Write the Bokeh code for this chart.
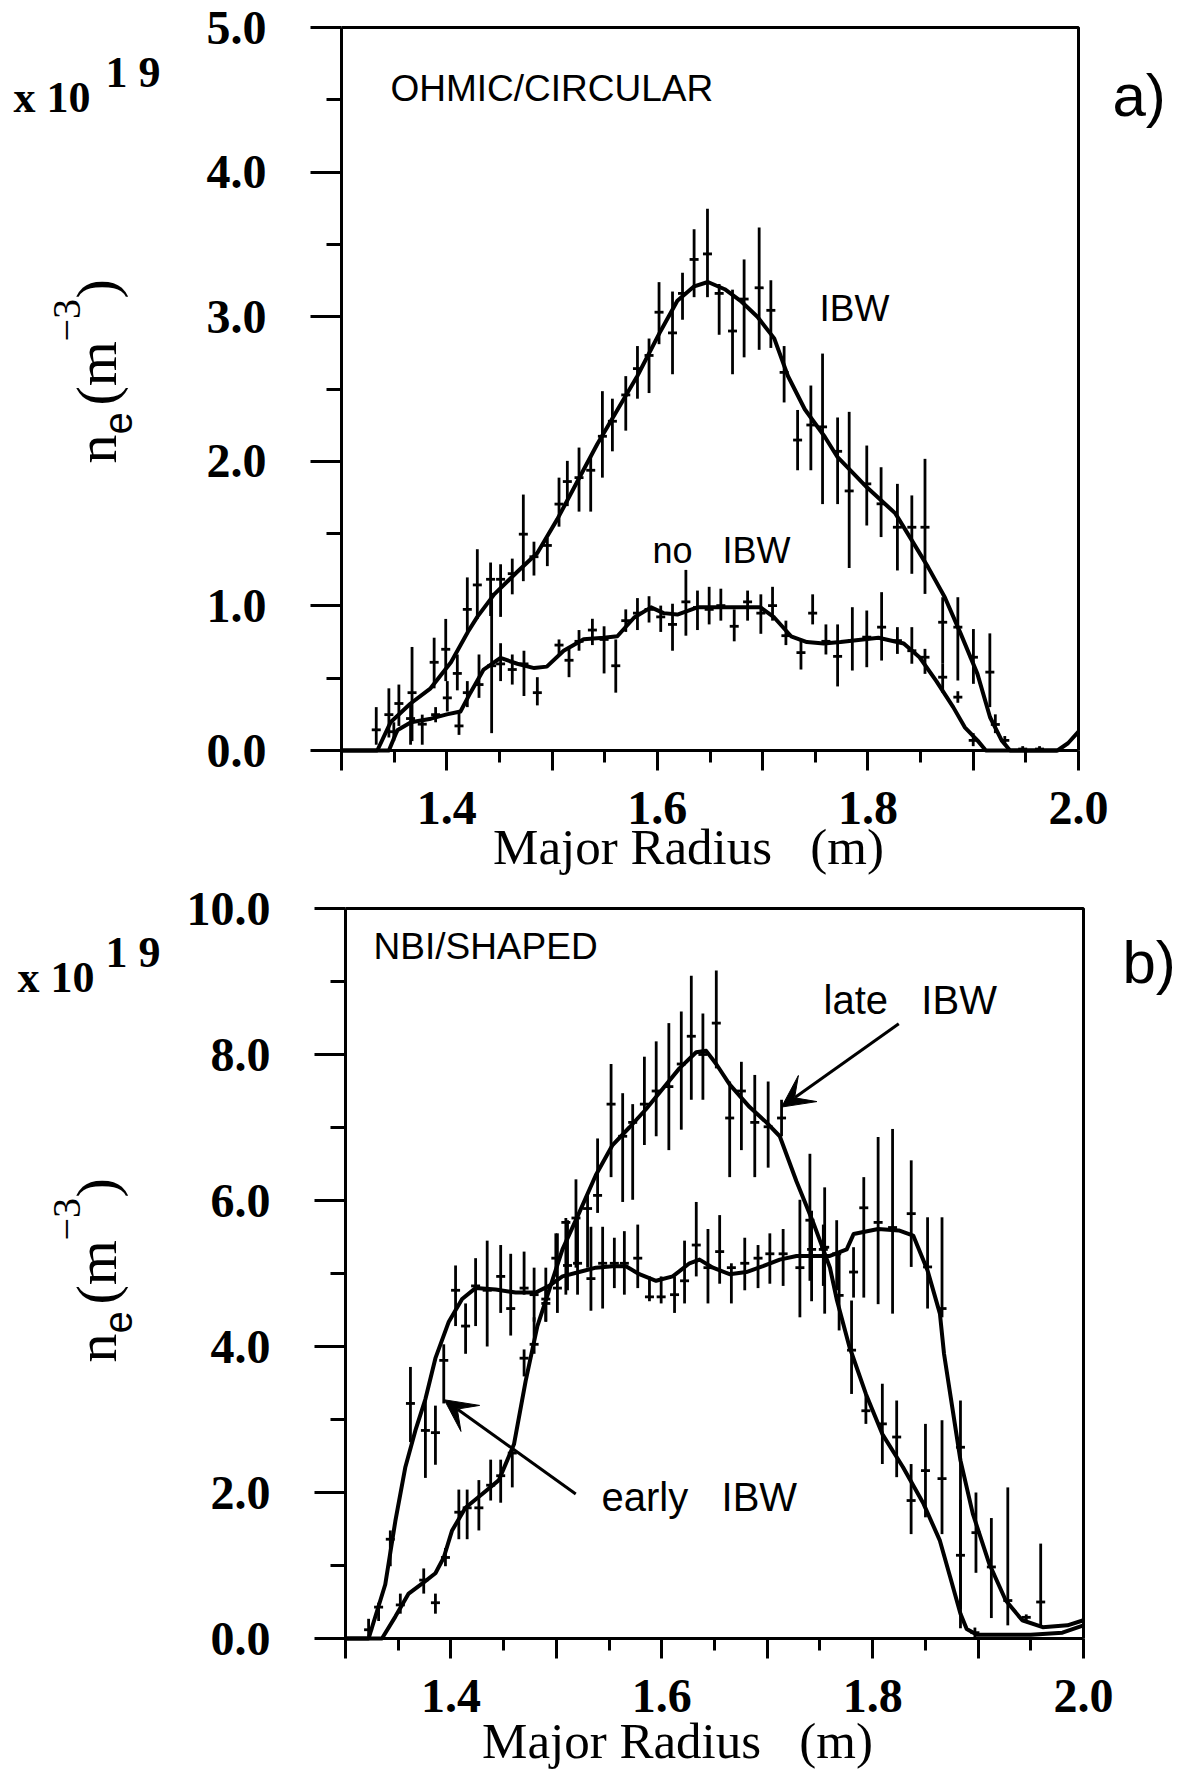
import math
from bokeh.plotting import figure
from bokeh.models import (Range1d, FixedTicker, CustomJSTickFormatter, PrintfTickFormatter,
                          Label, Arrow, VeeHead, ColumnDataSource)
from bokeh.layouts import column
from bokeh.embed import file_html
from bokeh.resources import INLINE

# ---------------- data ----------------
x_major_ticks = [1.3, 1.4, 1.5, 1.6, 1.7, 1.8, 1.9, 2.0]
x_minor_ticks = [1.35, 1.45, 1.55, 1.65, 1.75, 1.85, 1.95]
a_y_ticks = [0, 1, 2, 3, 4, 5]
a_y_minor = [0.5, 1.5, 2.5, 3.5, 4.5]
b_y_ticks = [0, 2, 4, 6, 8, 10]
b_y_minor = [1, 3, 5, 7, 9]

# panel a: IBW fitted profile
a_ibw_fit_r = [1.300, 1.334, 1.3466, 1.3656, 1.3846, 1.404, 1.420, 1.429, 1.445, 1.467, 1.486,
               1.505, 1.524, 1.543, 1.562, 1.581, 1.603, 1.619, 1.635, 1.648, 1.664, 1.679,
               1.695, 1.711, 1.724, 1.740, 1.759, 1.771, 1.799, 1.826, 1.842, 1.857, 1.873,
               1.888, 1.904, 1.916, 1.927, 1.935, 1.980, 1.990, 2.000]
a_ibw_fit_n = [0.0, 0.0, 0.195, 0.325, 0.43, 0.61, 0.82, 0.924, 1.08, 1.236, 1.366,
               1.60, 1.86, 2.12, 2.355, 2.59, 2.90, 3.11, 3.21, 3.24, 3.19, 3.11,
               3.00, 2.85, 2.59, 2.36, 2.17, 2.03, 1.82, 1.64, 1.45, 1.27, 1.06,
               0.81, 0.53, 0.23, 0.07, 0.0, 0.0, 0.05, 0.13]
# panel a: no IBW fitted profile
a_no_fit_r = [1.300, 1.345, 1.353, 1.366, 1.385, 1.400, 1.413, 1.4225, 1.435, 1.451, 1.467,
              1.483, 1.495, 1.511, 1.530, 1.549, 1.562, 1.578, 1.594, 1.606, 1.619, 1.638,
              1.670, 1.698, 1.711, 1.727, 1.742, 1.758, 1.774, 1.810, 1.834, 1.849, 1.865,
              1.881, 1.892, 1.904, 1.912, 1.980]
a_no_fit_n = [0.0, 0.0, 0.14, 0.195, 0.22, 0.25, 0.27, 0.40, 0.56, 0.64, 0.60,
              0.57, 0.58, 0.69, 0.77, 0.78, 0.79, 0.92, 0.99, 0.95, 0.94, 0.99,
              0.99, 0.99, 0.92, 0.79, 0.75, 0.74, 0.75, 0.78, 0.74, 0.645, 0.48,
              0.30, 0.16, 0.07, 0.0, 0.0]

# panel a: IBW measured points with error bars
a_ibw_r = [1.333, 1.345, 1.3545, 1.367, 1.388, 1.399, 1.410, 1.4195, 1.429, 1.4416, 1.4511,
           1.4622, 1.4727, 1.4828, 1.4955, 1.5066, 1.5145, 1.5256, 1.5367, 1.5478, 1.5573,
           1.570, 1.5811, 1.5921, 1.6016, 1.6144, 1.6239, 1.6349, 1.6476, 1.6587, 1.6714,
           1.6824, 1.6967, 1.7078, 1.7204, 1.7332, 1.7458, 1.7569, 1.7712, 1.7822, 1.7989,
           1.8125, 1.828, 1.8417, 1.8542, 1.871, 1.8854, 1.9002, 1.9158, 1.921, 1.930,
           1.947, 1.963]
a_ibw_n = [0.143, 0.248, 0.325, 0.40, 0.61, 0.70, 0.533, 0.976, 1.145, 1.184, 1.184,
           1.223, 1.496, 1.34, 1.418, 1.704, 1.86, 1.887, 1.938, 2.173, 2.277,
           2.459, 2.641, 2.732, 3.031, 2.888, 3.161, 3.396, 3.434, 3.161, 2.901,
           3.122, 3.20, 3.044, 2.615, 2.147, 2.251, 2.238, 2.069, 1.795, 1.844,
           1.706, 1.544, 1.544, 1.544, 0.887, 0.853, 0.645, 0.542, 0.18, 0.07,
           0.01, 0.01]
a_ibw_lo = [0.04, 0.09, 0.17, 0.065, 0.43, 0.48, 0.416, 0.82, 0.91, 0.93, 0.924,
            1.08, 1.171, 1.21, 1.275, 1.548, 1.69, 1.652, 1.652, 1.887, 2.069,
            2.212, 2.433, 2.472, 2.81, 2.602, 2.979, 3.135, 3.135, 2.875, 2.602,
            2.719, 2.771, 2.784, 2.407, 1.938, 1.938, 1.704, 1.704, 1.262, 1.556,
            1.476, 1.245, 1.222, 1.083, 0.60, 0.484, 0.461, 0.30, 0.12, 0.04,
            0.0, 0.0]
a_ibw_hi = [0.30, 0.43, 0.456, 0.716, 0.78, 0.91, 0.664, 1.197, 1.392, 1.30, 1.288,
            1.327, 1.77, 1.444, 1.47, 1.887, 2.003, 2.095, 2.03, 2.485, 2.433,
            2.589, 2.797, 2.849, 3.239, 3.174, 3.304, 3.604, 3.747, 3.226, 3.187,
            3.396, 3.617, 3.252, 2.797, 2.355, 2.524, 2.745, 2.303, 2.342, 2.109,
            1.959, 1.844, 1.764, 2.017, 1.06, 1.06, 0.84, 0.81, 0.25, 0.10,
            0.03, 0.03]

# panel a: no IBW measured points with error bars
a_no_r = [1.3497, 1.3656, 1.3767, 1.3894, 1.4005, 1.4116, 1.4195, 1.4306, 1.4426, 1.4511,
          1.4622, 1.4733, 1.486, 1.5066, 1.5161, 1.5256, 1.5383, 1.5494, 1.5605, 1.570,
          1.5811, 1.5921, 1.6032, 1.6144, 1.6271, 1.6381, 1.6492, 1.6603, 1.673, 1.6857,
          1.6983, 1.7094, 1.7221, 1.7364, 1.7475, 1.7601, 1.7712, 1.7852, 1.7989, 1.813,
          1.828, 1.8417, 1.8542, 1.871, 1.8854, 1.900]
a_no_n = [0.13, 0.221, 0.182, 0.248, 0.364, 0.17, 0.40, 0.456, 0.586, 0.599,
          0.56, 0.599, 0.40, 0.729, 0.624, 0.755, 0.833, 0.768, 0.586, 0.898,
          0.95, 0.976, 0.924, 0.872, 1.028, 0.989, 0.976, 1.002, 0.859, 1.028,
          0.95, 1.002, 0.794, 0.677, 0.95, 0.755, 0.651, 0.76, 0.784, 0.853,
          0.76, 0.69, 0.645, 0.507, 0.369, 0.07]
a_no_lo = [0.065, 0.04, 0.04, 0.195, 0.27, 0.108, 0.30, 0.364, 0.12, 0.48,
           0.456, 0.377, 0.312, 0.664, 0.507, 0.69, 0.729, 0.533, 0.40, 0.82,
           0.833, 0.885, 0.82, 0.69, 0.794, 0.833, 0.872, 0.898, 0.755, 0.898,
           0.807, 0.898, 0.729, 0.56, 0.872, 0.664, 0.443, 0.553, 0.576, 0.622,
           0.668, 0.60, 0.53, 0.40, 0.33, 0.03]
a_no_hi = [0.195, 0.325, 0.248, 0.30, 0.48, 0.273, 0.48, 0.664, 1.09, 0.742,
           0.664, 0.69, 0.507, 0.768, 0.703, 0.833, 0.911, 0.859, 0.768, 0.976,
           1.054, 1.067, 1.002, 1.015, 1.249, 1.106, 1.132, 1.119, 0.976, 1.106,
           1.08, 1.132, 0.898, 0.768, 1.08, 0.872, 0.872, 0.991, 0.968, 1.095,
           0.853, 0.853, 0.703, 0.60, 0.41, 0.12]

# panel b: late IBW fitted profile
b_late_fit_r = [1.300, 1.3346, 1.3473, 1.3599, 1.3742, 1.3853, 1.3932, 1.4011, 1.4138, 1.4297,
                1.4455, 1.4598, 1.4709, 1.482, 1.4931, 1.5058, 1.5216, 1.5375, 1.5533, 1.5692,
                1.585, 1.6009, 1.6167, 1.6326, 1.6421, 1.6516, 1.6643, 1.6833, 1.6992, 1.7119,
                1.7278, 1.7436, 1.7595, 1.7662, 1.7779, 1.7936, 1.8092, 1.8287, 1.8483, 1.8638,
                1.8736, 1.8833, 1.8892, 1.899, 1.950, 1.980, 2.000]
b_late_fit_n = [0.0, 0.0, 0.30, 0.615, 0.77, 0.894, 1.11, 1.48, 1.79, 1.98,
                2.17, 2.66, 3.53, 4.28, 4.77, 5.33, 5.83, 6.35, 6.76, 7.00,
                7.25, 7.53, 7.81, 8.03, 8.05, 7.87, 7.59, 7.28, 7.07, 6.88,
                6.26, 5.70, 5.08, 4.63, 4.00, 3.35, 2.80, 2.35, 1.845, 1.34,
                0.84, 0.34, 0.13, 0.05, 0.05, 0.08, 0.18]
# panel b: early IBW fitted profile
b_early_fit_r = [1.300, 1.3219, 1.3377, 1.3473, 1.3568, 1.3663, 1.3758, 1.3853, 1.398, 1.4106,
                 1.4233, 1.4424, 1.4614, 1.4804, 1.4931, 1.5058, 1.5216, 1.5375, 1.5533, 1.566,
                 1.5787, 1.5946, 1.6104, 1.6263, 1.6358, 1.6485, 1.6643, 1.6802, 1.696, 1.7119,
                 1.7278, 1.7436, 1.7595, 1.7754, 1.7819, 1.8053, 1.8248, 1.8385, 1.8521, 1.8638,
                 1.8677, 1.8755, 1.8833, 1.895, 1.9107, 1.9263, 1.9419, 1.9613, 1.9848, 2.000]
b_early_fit_n = [0.0, 0.0, 0.74, 1.61, 2.35, 2.85, 3.28, 3.84, 4.34, 4.65,
                 4.80, 4.78, 4.74, 4.74, 4.83, 4.96, 5.02, 5.08, 5.10, 5.10,
                 4.99, 4.90, 4.96, 5.14, 5.19, 5.08, 4.99, 5.02, 5.10, 5.19,
                 5.24, 5.24, 5.24, 5.33, 5.54, 5.61, 5.59, 5.52, 5.04, 4.45,
                 3.90, 3.17, 2.44, 1.71, 1.02, 0.52, 0.25, 0.155, 0.18, 0.25]

# panel b: late IBW measured points
b_late_r = [1.352, 1.3742, 1.3853, 1.3948, 1.4075, 1.4154, 1.4265, 1.4377, 1.4472, 1.4582,
            1.4694, 1.4789, 1.490, 1.4995, 1.509, 1.5186, 1.5296, 1.5391, 1.5519, 1.5629,
            1.5724, 1.5835, 1.5947, 1.6067, 1.6185, 1.628, 1.639, 1.6517, 1.6644, 1.6755,
            1.6882, 1.7009, 1.7136, 1.7405, 1.7545, 1.7682, 1.780, 1.7936, 1.8092, 1.8228,
            1.8365, 1.8501, 1.8658, 1.8833, 1.897]
b_late_n = [0.46, 0.80, 0.49, 1.11, 1.73, 1.79, 1.79, 2.10, 2.23, 2.54,
            3.84, 4.03, 4.65, 5.21, 5.70, 5.76, 5.89, 6.07, 7.32, 6.88,
            7.07, 7.32, 7.50, 7.56, 7.87, 8.25, 8.00, 8.43, 7.13, 7.50,
            7.07, 7.01, 7.13, 5.73, 5.36, 4.70, 3.95, 3.12, 2.94, 2.76,
            1.89, 2.30, 2.19, 1.14, 0.08]
b_late_lo = [0.34, 0.615, 0.34, 0.99, 1.36, 1.36, 1.48, 1.89, 1.86, 2.07,
             3.59, 3.90, 4.34, 4.96, 4.71, 5.08, 5.08, 5.83, 6.32, 5.98,
             6.01, 6.76, 6.88, 6.69, 6.97, 7.38, 7.38, 7.81, 6.32, 6.69,
             6.32, 6.45, 6.88, 4.90, 4.45, 4.22, 3.35, 2.94, 2.39, 2.21,
             1.43, 1.66, 1.43, 0.40, 0.02]
b_late_hi = [0.615, 0.96, 0.615, 1.24, 2.04, 2.04, 2.17, 2.45, 2.45, 2.60,
             3.96, 4.40, 4.83, 5.55, 5.76, 6.29, 6.07, 6.85, 7.87, 7.47,
             7.32, 7.97, 8.18, 8.43, 8.59, 9.08, 8.56, 9.15, 7.63, 7.90,
             7.72, 7.63, 7.38, 6.64, 6.18, 5.27, 4.63, 3.35, 3.49, 3.26,
             2.39, 2.94, 2.99, 1.90, 0.15]

# panel b: early IBW measured points
b_early_r = [1.3219, 1.3314, 1.3425, 1.3616, 1.3758, 1.3853, 1.3932, 1.4044, 1.4139, 1.4234,
             1.4344, 1.4472, 1.4567, 1.4694, 1.4789, 1.490, 1.501, 1.5106, 1.5201, 1.5328,
             1.5439, 1.555, 1.5645, 1.5772, 1.5883, 1.5994, 1.6121, 1.6216, 1.6327, 1.6438,
             1.6549, 1.666, 1.6787, 1.6913, 1.7025, 1.7151, 1.731, 1.7421, 1.7532, 1.7659,
             1.7819, 1.7916, 1.8052, 1.8189, 1.8366, 1.8521, 1.8658, 1.8833, 1.898, 1.9126,
             1.9282, 1.9457, 1.9594]
b_early_n = [0.12, 0.43, 1.36, 3.22, 2.85, 2.82, 3.81, 4.77, 4.28, 4.83,
             4.77, 4.96, 4.52, 4.80, 4.71, 4.59, 4.80, 5.11, 5.14, 4.93,
             5.14, 5.14, 5.14, 5.21, 4.68, 4.68, 4.71, 4.90, 5.39, 5.08,
             5.30, 5.08, 5.14, 5.21, 5.27, 5.27, 5.08, 5.33, 5.33, 5.27,
             5.02, 5.90, 5.70, 5.63, 5.82, 5.09, 4.52, 2.62, 1.45, 0.98,
             0.52, 0.29, 0.50]
b_early_lo = [0.03, 0.24, 0.99, 2.69, 2.20, 2.38, 3.22, 4.28, 3.90, 4.28,
              4.00, 4.46, 4.15, 4.71, 4.34, 4.34, 4.46, 4.77, 4.71, 4.49,
              4.52, 4.80, 4.71, 4.80, 4.62, 4.59, 4.46, 4.59, 4.96, 4.59,
              4.86, 4.59, 4.77, 4.80, 4.86, 4.83, 4.40, 4.62, 4.83, 4.77,
              4.67, 4.67, 4.58, 4.45, 5.09, 4.52, 4.40, 0.14, 0.90, 0.28,
              0.18, 0.25, 0.18]
b_early_hi = [0.27, 0.49, 1.48, 3.72, 3.31, 3.19, 4.03, 5.11, 4.59, 5.21,
              5.45, 5.39, 5.27, 5.30, 5.08, 5.08, 5.55, 5.73, 5.83, 5.64,
              5.64, 5.49, 5.58, 5.67, 4.96, 4.96, 4.96, 5.45, 5.98, 5.61,
              5.80, 5.14, 5.49, 5.39, 5.55, 5.61, 6.01, 5.86, 5.67, 5.73,
              5.36, 6.32, 6.87, 6.98, 6.55, 5.77, 5.77, 3.26, 2.00, 1.65,
              2.07, 0.33, 1.30]

SERIF = "Liberation Serif"
SANS = "Liberation Sans"
NB = "\u00a0"
W = 1193
BASE_FIX = 0.33   # measured offset of the rendered baseline, in em


def make_panel(ymax, yticks, yminor, box_left, box_right, box_top, box_bottom, height):
    """Figure whose frame covers the whole canvas; the plotting box sits at the given pixels."""
    x0, x1 = x_major_ticks[0], x_major_ticks[-1]
    sxu = (box_right - box_left) / (x1 - x0)
    syu = (box_bottom - box_top) / ymax
    xr = Range1d(x0 - box_left / sxu, x1 + (W - box_right) / sxu)
    yr = Range1d(0 - (height - box_bottom) / syu, ymax + box_top / syu)
    p = figure(width=W, height=height, x_range=xr, y_range=yr,
               min_border=0, min_border_left=0, min_border_right=0, min_border_top=0,
               min_border_bottom=0, toolbar_location=None, output_backend="svg")
    p.xgrid.visible = False
    p.ygrid.visible = False
    p.outline_line_color = None
    p.background_fill_color = "white"
    p.border_fill_color = "white"

    p.xaxis.fixed_location = 0
    p.xaxis.bounds = (x0, x1)
    p.yaxis.fixed_location = x0
    p.yaxis.bounds = (0, ymax)
    p.xaxis.ticker = FixedTicker(ticks=x_major_ticks, minor_ticks=x_minor_ticks)
    p.xaxis.formatter = CustomJSTickFormatter(
        code="const k = Math.round(tick*10); return (k % 2 == 0) ? tick.toFixed(1) : '';")
    p.yaxis.ticker = FixedTicker(ticks=yticks, minor_ticks=yminor)
    p.yaxis.formatter = PrintfTickFormatter(format="%.1f")

    for ax in (p.xaxis, p.yaxis):
        ax.axis_line_width = 3
        ax.axis_line_color = "black"
        ax.major_tick_line_width = 3
        ax.minor_tick_line_width = 3
        ax.major_tick_line_color = "black"
        ax.minor_tick_line_color = "black"
        ax.major_tick_in = 0
        ax.minor_tick_in = 0
        ax.major_label_text_font = SERIF
        ax.major_label_text_font_size = "48px"
        ax.major_label_text_font_style = "bold"
        ax.major_label_text_color = "black"
    p.yaxis.major_tick_out = 31
    p.yaxis.minor_tick_out = 15
    p.yaxis.major_label_standoff = 44
    p.xaxis.major_tick_out = 20
    p.xaxis.minor_tick_out = 12
    p.xaxis.major_label_standoff = 21

    # top and right sides of the plotting box
    p.line([x0, x1, x1], [ymax, ymax, 0], line_color="black", line_width=3)
    return p


def add_series(p, fit_r, fit_n, r, n, lo, hi):
    p.line(fit_r, fit_n, line_color="black", line_width=4, line_join="round")
    src = ColumnDataSource(dict(r=r, n=n, lo=lo, hi=hi))
    p.segment(x0="r", y0="lo", x1="r", y1="hi", source=src, line_color="black", line_width=2.8)
    p.scatter(x="r", y="n", source=src, marker="dash", size=9, line_color="black", line_width=2.8)


def txt(p, text, sx, sy, size, font, angle=0.0, align="left", style="normal"):
    fix = BASE_FIX * size
    if angle == 0.0:
        sy = sy + fix
    else:
        sx = sx - fix
    p.add_layout(Label(x=sx, y=sy, x_units="screen", y_units="screen", text=text,
                       text_font=font, text_font_size=f"{size}px", text_color="black",
                       text_font_style=style, text_baseline="alphabetic", text_align=align,
                       angle=angle))


def ylabel(p, sx, sy):
    a = math.pi / 2
    txt(p, "n", sx, sy, 58, SERIF, a)
    txt(p, "e", sx + 16, sy + 29, 40, SANS, a)
    txt(p, "(m", sx, sy + 58, 58, SERIF, a)
    txt(p, "\u22123", sx - 35, sy + 122, 40, SERIF, a)
    txt(p, ")", sx, sy + 165, 58, SERIF, a)


# ---------------- panel a ----------------
HA = 880
pa = make_panel(5, a_y_ticks, a_y_minor, box_left=341, box_right=1078, box_top=27,
                box_bottom=750, height=HA)
add_series(pa, a_ibw_fit_r, a_ibw_fit_n, a_ibw_r, a_ibw_n, a_ibw_lo, a_ibw_hi)
add_series(pa, a_no_fit_r, a_no_fit_n, a_no_r, a_no_n, a_no_lo, a_no_hi)
txt(pa, "OHMIC/CIRCULAR", 390, HA - 100, 37, SANS)
txt(pa, "IBW", 819, HA - 320, 37, SANS)
txt(pa, "no" + NB * 3 + "IBW", 652, HA - 562, 36, SANS)
txt(pa, "a)", 1112, HA - 115, 60, SANS)
txt(pa, "x" + NB + "10", 13, HA - 112, 44, SERIF, style="bold")
txt(pa, "1" + NB + "9", 105, HA - 87, 44, SERIF, style="bold")
txt(pa, "Major Radius" + NB * 3 + "(m)", 688, HA - 863, 51, SERIF, align="center")
ylabel(pa, 115, HA - 463)

# ---------------- panel b ----------------
HB = 892
pb = make_panel(10, b_y_ticks, b_y_minor, box_left=345, box_right=1083, box_top=28,
                box_bottom=758, height=HB)
add_series(pb, b_late_fit_r, b_late_fit_n, b_late_r, b_late_n, b_late_lo, b_late_hi)
add_series(pb, b_early_fit_r, b_early_fit_n, b_early_r, b_early_n, b_early_lo, b_early_hi)
txt(pb, "NBI/SHAPED", 373, HB - 78, 37, SANS)
txt(pb, "late" + NB * 3 + "IBW", 823, HB - 133, 40, SANS)
txt(pb, "early" + NB * 3 + "IBW", 601, HB - 630, 40, SANS)
txt(pb, "b)", 1122, HB - 102, 60, SANS)
txt(pb, "x" + NB + "10", 17, HB - 112, 44, SERIF, style="bold")
txt(pb, "1" + NB + "9", 105, HB - 87, 44, SERIF, style="bold")
txt(pb, "Major Radius" + NB * 3 + "(m)", 677, HB - 877, 51, SERIF, align="center")
ylabel(pb, 115, HB - 482)

pb.add_layout(Arrow(end=VeeHead(size=32, fill_color="black", line_color="black"),
                    x_start=1.8248, y_start=8.42, x_end=1.7136, y_end=7.28,
                    line_width=3, line_color="black"))
pb.add_layout(Arrow(end=VeeHead(size=32, fill_color="black", line_color="black"),
                    x_start=1.5184, y_start=1.98, x_end=1.3937, y_end=3.27,
                    line_width=3, line_color="black"))

layout = column(pa, pb, spacing=0)
open("out.html", "w").write(file_html(layout, INLINE, "Density profiles"))
